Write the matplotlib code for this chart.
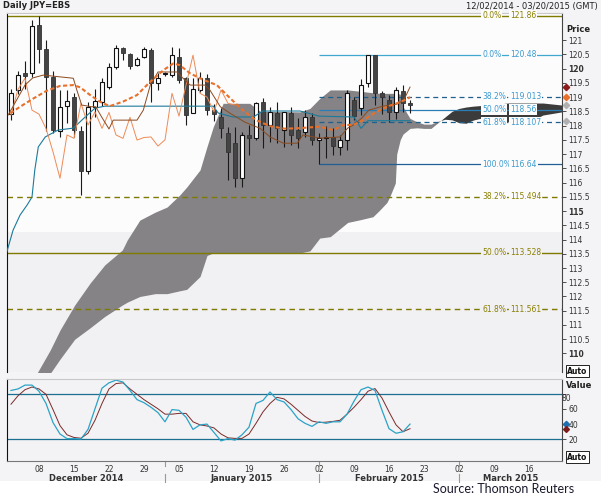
import matplotlib
matplotlib.use('Agg')
import matplotlib.pyplot as plt
import matplotlib.transforms as mtransforms
import numpy as np

# daily candles, 02 Dec 2014 .. 19 Feb 2015 (trading-day index 0..57)
opens = [118.40, 119.25, 119.85, 119.85, 121.53, 120.70, 119.70, 117.80, 118.70, 118.99,
         117.80, 116.40, 118.65, 118.84, 119.36, 120.04, 120.71, 120.51, 120.12, 120.39,
         120.65, 119.48, 119.80, 119.77, 120.41, 119.66, 118.45, 119.25, 119.66, 118.55,
         118.31, 117.75, 117.38, 116.15, 117.67, 117.58, 118.84, 118.02, 118.43, 117.84,
         118.43, 117.84, 117.78, 118.31, 117.49, 117.55, 117.60, 117.25, 117.50, 118.90,
         118.60, 119.48, 120.47, 119.13, 118.90, 118.48, 119.22, 118.80]
highs = [119.30, 119.90, 120.25, 121.70, 121.86, 121.00, 119.90, 119.25, 119.25, 119.14,
         118.00, 118.84, 119.30, 119.66, 120.18, 120.82, 120.77, 120.55, 120.41, 120.77,
         120.71, 119.83, 119.88, 120.77, 120.71, 119.71, 119.66, 119.89, 119.80, 118.75,
         118.60, 117.96, 117.96, 117.78, 118.02, 118.84, 118.96, 118.66, 118.84, 118.48,
         118.66, 118.25, 118.54, 118.43, 117.75, 118.00, 117.90, 117.67, 119.25, 119.00,
         119.62, 120.48, 120.48, 119.20, 119.07, 119.36, 119.42, 118.89]
lows = [118.20, 119.10, 119.30, 119.70, 120.20, 117.80, 117.75, 117.60, 118.10, 117.60,
        115.56, 116.30, 118.30, 118.70, 119.30, 120.00, 120.30, 119.99, 120.09, 120.36,
        118.84, 119.25, 119.75, 119.71, 119.48, 118.02, 118.43, 119.18, 118.37, 118.15,
        117.56, 116.09, 115.85, 115.85, 116.96, 117.49, 117.20, 117.43, 117.38, 117.26,
        117.32, 117.20, 117.61, 117.32, 116.64, 116.86, 116.96, 116.96, 117.14, 118.20,
        118.37, 119.36, 118.72, 118.40, 118.13, 118.22, 118.48, 118.43]
closes = [119.15, 119.77, 119.75, 121.50, 120.68, 119.70, 117.85, 118.65, 118.85, 117.84,
          116.40, 118.66, 118.85, 119.54, 120.06, 120.71, 120.53, 120.09, 120.32, 120.67,
          119.48, 119.66, 119.82, 120.47, 119.60, 118.37, 119.27, 119.66, 118.54, 118.40,
          117.90, 117.08, 116.15, 117.67, 117.55, 118.78, 118.02, 118.48, 117.90, 118.46,
          117.67, 117.55, 118.29, 117.49, 117.58, 117.60, 117.28, 117.50, 119.13, 118.33,
          119.42, 120.47, 119.13, 119.00, 118.48, 119.25, 118.78, 118.72]

# moving average (orange dashed): (day index, price)
ma_x = [-0.1, 1.3, 3.2, 5.1, 7.0, 8.9, 9.9, 11.3, 12.7, 14.1, 16.0, 18.0, 19.9, 21.8, 23.2,
        24.1, 25.6, 27.5, 29.4, 31.3, 33.1, 35.0, 37.0, 39.1, 41.3, 44.1, 46.0, 47.5, 48.9,
        50.3, 52.2, 53.7, 55.1, 56.5, 57.0]
ma_y = [118.43, 118.66, 118.95, 119.22, 119.39, 119.42, 119.34, 119.07, 118.84, 118.68,
        118.84, 119.07, 119.54, 119.95, 120.18, 120.12, 119.83, 119.60, 119.42, 118.96,
        118.54, 118.19, 117.98, 117.89, 117.91, 117.96, 117.84, 118.02, 118.02, 118.19,
        118.48, 118.66, 118.78, 118.92, 119.00]

# tenkan-sen (brown)
tk_x = [-0.4, 2.0, 3.1, 4.6, 8.9, 9.4, 10.1, 11.5, 12.1, 13.0, 14.0, 14.6, 18.0, 18.9, 19.9,
        20.6, 21.0, 23.7, 25.1, 25.6, 27.7, 28.4, 29.9, 31.3, 33.4, 35.6, 37.0, 38.9, 40.9,
        41.7, 44.1, 47.0, 48.1, 48.9, 50.1, 51.1, 53.1, 55.1, 56.1, 57.0]
tk_y = [118.37, 119.42, 119.67, 119.77, 119.66, 119.25, 118.72, 118.66, 118.66, 118.28,
        117.88, 118.19, 118.19, 118.54, 119.42, 119.71, 119.88, 119.88, 119.53, 119.42,
        119.42, 119.25, 118.66, 118.43, 118.12, 117.90, 117.60, 117.38, 117.38, 117.67,
        117.56, 117.60, 117.91, 118.02, 118.26, 118.54, 118.68, 118.75, 118.89, 119.35]

# kijun-sen (teal)
kj_x = [-0.6, 0.3, 1.3, 2.3, 3.0, 3.4, 3.9, 4.9, 6.7, 8.9, 10.6, 12.0, 13.4, 28.9, 29.6,
        31.7, 34.6, 36.0, 41.3, 44.0, 49.0, 50.0, 51.0, 57.0]
kj_y = [113.56, 114.33, 114.86, 115.21, 115.49, 116.44, 117.25, 117.60, 117.84, 117.91,
        118.30, 118.61, 118.68, 118.68, 118.44, 118.30, 118.30, 118.51, 118.51, 118.33,
        118.30, 117.90, 118.17, 118.17]
chikou_shift = 25

# ichimoku cloud (senkou span A / B)
cloud_x = [3, 5.6, 7, 9.1, 11.3, 13.4, 15.9, 16.6, 18.4, 20.6, 22.3, 24.1, 25.1, 27, 28, 28.9,
           29.9, 30.3, 34.1, 35.6, 41.3, 42.7, 44.1, 45.6, 48.1, 50, 51.7, 52.7, 53.7, 54.1,
           54.9, 55.1, 55.6, 56, 57, 58, 59, 60, 61, 62, 63, 64, 65, 66, 67, 68, 71, 74, 76, 78.7]
span_a = [109.0, 110.12, 110.82, 111.7, 112.47, 113.11, 113.63, 113.98, 114.68, 114.96,
          115.14, 115.56, 115.84, 116.44, 117.26, 117.96, 118.54, 118.78, 118.78, 118.5,
          118.48, 118.6, 118.95, 119.25, 119.25, 119.2, 119.15, 119.13, 119.13, 119.13,
          119.13, 119.13, 119.1, 118.66, 118.25, 118.13, 118.05, 118.05, 118.15, 118.22,
          118.2, 118.1, 118.08, 118.19, 118.25, 118.22, 118.13, 118.13, 118.37, 118.48]
span_b = [108.8, 109.3, 109.8, 110.5, 110.9, 111.3, 111.7, 111.8, 112.0, 112.1,
          112.1, 112.2, 112.25, 112.7, 113.44, 113.53, 113.53, 113.53, 113.53, 113.53,
          113.53, 113.6, 114.05, 114.1, 114.6, 114.7, 114.8, 115.04, 115.3, 115.5,
          115.98, 117.0, 117.5, 117.7, 117.9, 117.92, 117.9, 117.9, 118.1, 118.3,
          118.5, 118.6, 118.65, 118.68, 118.7, 118.72, 118.79, 118.79, 118.79, 118.72]

# fibonacci retracements
fib1_levels = [121.86, 115.494, 113.528, 111.561]
fib1_pcts = ['0.0%', '38.2%', '50.0%', '61.8%']
fib1_text = ['121.86', '115.494', '113.528', '111.561']
fib2_levels = [120.48, 119.013, 118.56, 118.107, 116.64]
fib2_pcts = ['0.0%', '38.2%', '50.0%', '61.8%', '100.0%']
fib2_text = ['120.48', '119.013', '118.56', '118.107', '116.64']
fib2_start = 44

# slow stochastic
stoch_k = [84, 86, 91, 91, 83, 67, 42, 27, 21, 21,
           20.5, 33, 60, 87, 94, 97.5, 95, 84, 72, 68,
           62, 55, 43, 59, 58, 49, 33, 39, 40, 29,
           18, 21, 19, 26, 36, 67, 71, 82, 72, 69,
           59, 47, 41, 37, 43, 41, 43, 43, 53, 70,
           85, 88.5, 84, 58, 34, 28, 30, 40]
stoch_d = [66, 77, 85, 88.5, 86, 79, 59, 38, 26, 22.5,
           21.5, 28, 45, 67, 86, 93, 94, 86, 79, 72,
           66, 60, 53, 53, 54, 54, 43, 39, 37.5, 35,
           27, 22, 21.3, 21.3, 27, 41, 56, 67, 75, 73,
           66, 58, 50, 44, 42, 42.5, 43.5, 45, 53, 62,
           72, 83, 86.5, 74, 56, 39, 30, 34]

tick_days = [4, 9, 14, 19, 24, 29, 34, 39, 44, 49, 54, 59, 64, 69, 74]
tick_labels = ['08', '15', '22', '29', '05', '12', '19', '26', '02', '09', '16', '23', '02', '09', '16']
month_names = ['December 2014', 'January 2015', 'February 2015', 'March 2015']
month_centers = [10.7, 33.0, 54.1, 71.4]
month_starts = [22, 44, 64]

W, H = 601, 501
XL = (-0.57, 78.71)
SMALL = 5.5


def px_box(x0, y0, x1, y1):
    return [x0 / W, 1 - y1 / H, (x1 - x0) / W, (y1 - y0) / H]


fig = plt.figure(figsize=(W / 100, H / 100), dpi=100)
fig.patch.set_facecolor('white')
fig.add_artist(plt.Rectangle((0, 1 - 481 / H), 1, 481 / H, transform=fig.transFigure,
                             facecolor='#f4f3f5', edgecolor='none', zorder=-5))

ax = fig.add_axes(px_box(7, 13, 562, 372))
sx = fig.add_axes(px_box(7, 379, 562, 461))

# ---------- price panel ----------
ax.set_facecolor('#fdfcfd')
ax.set_xlim(*XL)
ax.set_ylim(109.35, 121.95)
ax.axhspan(109.35, 114.26, color='#f1f0f2', lw=0, zorder=0)

cx = np.array(cloud_x)
a = np.array(span_a)
b = np.array(span_b)
ax.fill_between(cx, a, b, where=a >= b, interpolate=True, color='#858385', lw=0, zorder=1)
ax.fill_between(cx, a, b, where=a < b, interpolate=True, color='#3b3b3b', lw=0, zorder=1)

# fib lines
olive = '#7f7a00'
for lev, st in zip(fib1_levels, ['-', (0, (4, 3)), '-', (0, (4, 3))]):
    ax.axhline(lev, color=olive, lw=1.0, ls=st, zorder=2)
blue_cols = ['#3fa9d0', '#1e5f8e', '#2b7db5', '#1e5f8e', '#1f5f95']
blue_st = ['-', (0, (4, 3)), '-', (0, (4, 3)), '-']
for lev, c, st in zip(fib2_levels, blue_cols, blue_st):
    ax.hlines(lev, fib2_start, XL[1], color=c, lw=0.9, ls=st, zorder=2)

# candles
x = np.arange(len(closes))
O = np.array(opens); C = np.array(closes); Hh = np.array(highs); L = np.array(lows)
up = C >= O
ax.vlines(x, L, Hh, color='#1a1a1a', lw=0.8, zorder=4)
ax.bar(x[up], np.maximum(C - O, 0.03)[up], bottom=O[up], width=0.62,
       facecolor='white', edgecolor='#111111', lw=0.8, zorder=5)
ax.bar(x[~up], np.maximum(O - C, 0.03)[~up], bottom=C[~up], width=0.62,
       facecolor='#444444', edgecolor='#333333', lw=0.6, zorder=5)

# indicator lines
ax.plot(kj_x, kj_y, color='#1b7a9a', lw=0.8, zorder=6)
ax.plot(x[:-chikou_shift], C[chikou_shift:], color='#ee8a55', lw=0.7, zorder=6)
ax.plot(tk_x, tk_y, color='#8b4a1f', lw=0.7, zorder=6)
ax.plot(ma_x, ma_y, color='#e8702a', lw=1.5, ls=(0, (2, 1.2)), zorder=6)


# fib labels
def fib_label(lev, pct, txt, col, bg):
    box = dict(boxstyle='square,pad=0.12', facecolor=bg, edgecolor='none')
    ax.text(67.3, lev, pct, color=col, fontsize=SMALL, va='center', ha='left', bbox=box, zorder=8)
    ax.text(71.3, lev, txt, color=col, fontsize=SMALL, va='center', ha='left', bbox=box, zorder=8)


for lev, p, t in zip(fib1_levels, fib1_pcts, fib1_text):
    fib_label(lev, p, t, '#8a8000', '#fdfcfd' if lev > 114.26 else '#f1f0f2')
for lev, p, t in zip(fib2_levels, fib2_pcts, fib2_text):
    fib_label(lev, p, t, '#3a9ad0', '#fdfcfd')

# last-value markers on price scale
for v, c in [(tk_y[-1], '#8b1a1a'), (ma_y[-1], '#e8702a'), (closes[-1], '#b0b0b0'), (kj_y[-1], '#b0b0b0')]:
    ax.plot([79.3], [v], marker='D', ms=3.2, color=c, clip_on=False, zorder=9)

ax.yaxis.tick_right()
yt = np.arange(110, 121.01, 0.5)
ax.set_yticks(yt)
ax.set_yticklabels(['%g' % v for v in yt])
ax.tick_params(axis='y', length=3, width=0.6, pad=1.5, labelsize=SMALL, colors='#333333')
for lab, v in zip(ax.get_yticklabels(), yt):
    if v % 5 == 0:
        lab.set_fontweight('bold')
ax.set_xticks([])
for side, col in [('left', '#111111'), ('right', '#444444'), ('top', '#c8c8c8')]:
    ax.spines[side].set_color(col)
ax.spines['bottom'].set_visible(False)

# ---------- stochastic panel ----------
sx.set_facecolor('#f3f2f4')
sx.set_xlim(*XL)
sx.set_ylim(-8.3, 99)
sx.axhline(80, color='#1b6f8f', lw=0.9)
sx.axhline(20, color='#1b6f8f', lw=0.9)
sx.plot(x, stoch_d, color='#7a2a2a', lw=0.7)
sx.plot(x, stoch_k, color='#2ba3c7', lw=0.9)
sx.plot([79.3], [stoch_k[-1]], marker='D', ms=3.2, color='#1f6fb0', clip_on=False)
sx.plot([79.3], [stoch_d[-1]], marker='D', ms=3.0, color='#7a1a1a', clip_on=False)
sx.yaxis.tick_right()
sx.set_yticks([20, 40, 60, 80])
sx.set_yticklabels(['20', '40', '60', ''])
sx.tick_params(axis='y', length=3, width=0.6, pad=1.5, labelsize=SMALL, colors='#333333')
sx.text(1.0, 74, '80', transform=mtransforms.blended_transform_factory(sx.transAxes, sx.transData),
        ha='left', va='center', fontsize=SMALL, color='#333333')
sx.set_xticks(tick_days)
sx.set_xticklabels(tick_labels)
sx.tick_params(axis='x', length=0, pad=3, labelsize=SMALL, colors='#333333')
for side, col in [('left', '#111111'), ('right', '#444444'), ('top', '#c8c8c8'), ('bottom', '#777777')]:
    sx.spines[side].set_color(col)

tr = mtransforms.blended_transform_factory(sx.transData, sx.transAxes)
for name, cpos in zip(month_names, month_centers):
    sx.text(cpos, -0.21, name, transform=tr, ha='center', va='center', fontsize=6,
            fontweight='bold', color='#333333')
for m in month_starts:
    sx.plot([m, m], [0, -0.06], transform=tr, color='#999999', lw=0.8, clip_on=False)
    sx.plot([m, m], [-0.16, -0.25], transform=tr, color='#999999', lw=0.8, clip_on=False)

# ---------- header / labels ----------
fig.text(3 / W, 1 - 6 / H, 'Daily JPY=EBS', fontsize=6, fontweight='bold', va='center', color='#222222')
fig.text(598 / W, 1 - 6 / H, '12/02/2014 - 03/20/2015 (GMT)', fontsize=6, ha='right', va='center',
         color='#222222')
fig.text(566 / W, 1 - 29 / H, 'Price', fontsize=6, fontweight='bold', va='center', color='#222222')
fig.text(566 / W, 1 - 386 / H, 'Value', fontsize=6, fontweight='bold', va='center', color='#222222')
for yy in [371, 457]:
    fig.text(567 / W, 1 - yy / H, 'Auto', fontsize=5.5, fontweight='bold', va='center', color='#111111',
             bbox=dict(boxstyle='square,pad=0.15', facecolor='white', edgecolor='#222222', lw=0.7))
fig.text(433 / W, 1 - 489 / H, 'Source: Thomson Reuters', fontsize=9, family='Lato', va='center',
         color='#1a1a2e')

fig.savefig('out.png', dpi=100, facecolor=fig.get_facecolor())
